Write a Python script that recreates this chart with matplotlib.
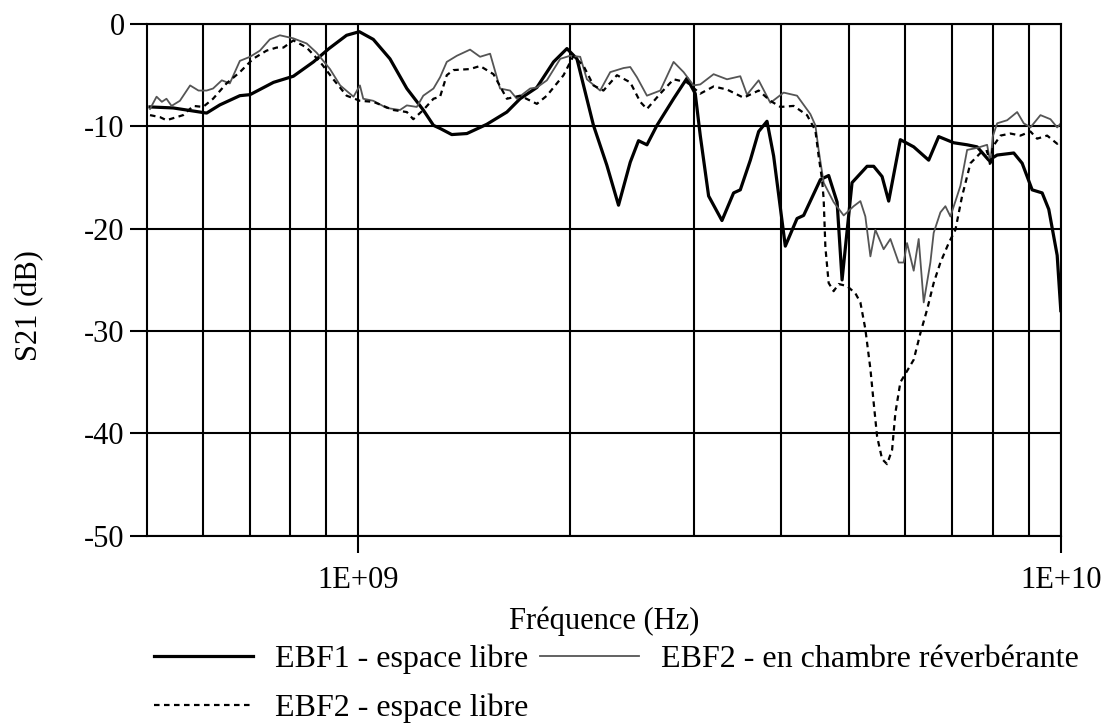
import numpy as np
import matplotlib
matplotlib.use("Agg")
import matplotlib.pyplot as plt
from matplotlib.ticker import FixedLocator, NullFormatter

plt.rcParams["font.family"] = ["Liberation Serif", "DejaVu Serif"]

# EBF1 - espace libre (fréquence en GHz, S21 en dB)
ebf1_f = [0.505, 0.545, 0.608, 0.635, 0.678, 0.701, 0.757, 0.808, 0.863, 0.908,
          0.962, 1.003, 1.050, 1.109, 1.172, 1.237, 1.279, 1.307, 1.358, 1.427,
          1.523, 1.627, 1.699, 1.795, 1.896, 1.981, 2.047, 2.161, 2.258, 2.346,
          2.438, 2.505, 2.575, 2.661, 2.810, 2.936, 3.017, 3.067, 3.152, 3.293,
          3.421, 3.497, 3.614, 3.714, 3.817, 3.901, 4.053, 4.212, 4.304, 4.547,
          4.672, 4.803, 4.882, 5.044, 5.299, 5.415, 5.566, 5.688, 5.910, 6.174,
          6.485, 6.701, 7.040, 7.356, 7.601, 7.896, 8.117, 8.571, 8.810, 9.104,
          9.407, 9.613, 9.882, 10.0]
ebf1_db = [-8.1, -8.2, -8.7, -7.9, -7.0, -6.9, -5.7, -5.1, -3.7, -2.4,
           -1.1, -0.75, -1.5, -3.4, -6.3, -8.4, -9.9, -10.2, -10.8, -10.7,
           -9.8, -8.6, -7.3, -6.2, -3.7, -2.4, -3.4, -9.9, -13.8, -17.7,
           -13.5, -11.4, -11.8, -9.9, -7.3, -5.3, -6.8, -10.9, -16.8, -19.2,
           -16.5, -16.2, -13.3, -10.5, -9.5, -12.9, -21.7, -19.0, -18.7, -15.2,
           -14.8, -17.4, -25.0, -15.5, -13.9, -13.9, -14.9, -17.3, -11.3, -12.0,
           -13.3, -11.0, -11.6, -11.8, -12.0, -13.3, -12.8, -12.6, -13.6, -16.2,
           -16.5, -18.1, -22.6, -28.0]

# EBF2 - en chambre réverbérante
ch_f = [0.505, 0.516, 0.525, 0.533, 0.542, 0.557, 0.576, 0.592, 0.608, 0.621,
        0.639, 0.656, 0.678, 0.701, 0.724, 0.748, 0.773, 0.808, 0.844, 0.872,
        0.911, 0.942, 0.984, 1.005, 1.016, 1.050, 1.097, 1.146, 1.172, 1.211,
        1.237, 1.279, 1.307, 1.336, 1.381, 1.442, 1.490, 1.540, 1.591, 1.644,
        1.681, 1.756, 1.795, 1.855, 1.938, 2.002, 2.069, 2.115, 2.209, 2.283,
        2.385, 2.438, 2.492, 2.575, 2.690, 2.810, 2.904, 3.000, 3.067, 3.204,
        3.348, 3.497, 3.575, 3.714, 3.859, 4.031, 4.212, 4.400, 4.473, 4.521,
        4.596, 4.749, 4.908, 4.962, 5.071, 5.184, 5.269, 5.357, 5.445, 5.595,
        5.720, 5.877, 5.974, 6.041, 6.174, 6.276, 6.380, 6.521, 6.592, 6.739,
        6.850, 6.964, 7.119, 7.196, 7.356, 7.601, 7.854, 7.940, 8.000, 8.117,
        8.387, 8.667, 8.856, 9.053, 9.355, 9.667, 9.882, 10.0]
ch_db = [-8.3, -7.1, -7.6, -7.3, -8.0, -7.5, -6.0, -6.5, -6.5, -6.3,
         -5.5, -5.8, -3.6, -3.2, -2.6, -1.5, -1.1, -1.4, -1.9, -2.8,
         -4.4, -6.0, -7.1, -6.0, -7.3, -7.5, -8.2, -8.4, -7.95, -8.1,
         -7.0, -6.3, -5.2, -3.7, -3.1, -2.5, -3.2, -2.9, -6.3, -6.5,
         -7.3, -6.3, -6.2, -5.5, -3.4, -3.1, -3.2, -5.4, -6.5, -4.7,
         -4.3, -4.2, -5.2, -7.0, -6.5, -3.7, -4.7, -6.0, -5.9, -4.9,
         -5.4, -5.1, -6.9, -5.5, -7.7, -6.7, -7.0, -8.8, -9.9, -12.3,
         -15.5, -17.4, -18.7, -18.4, -17.8, -17.3, -18.8, -22.7, -20.1, -22.0,
         -21.0, -23.3, -23.3, -21.4, -24.1, -21.0, -27.2, -23.3, -20.4, -18.4,
         -17.8, -18.8, -16.8, -15.8, -12.3, -12.1, -11.8, -13.6, -11.0, -9.7,
         -9.4, -8.6, -9.7, -10.1, -8.9, -9.3, -10.1, -9.7]

# EBF2 - espace libre
el_f = [0.505, 0.522, 0.533, 0.563, 0.582, 0.601, 0.621, 0.649, 0.678, 0.708,
        0.740, 0.765, 0.782, 0.808, 0.844, 0.882, 0.921, 0.962, 1.005, 1.050,
        1.121, 1.172, 1.197, 1.237, 1.279, 1.307, 1.336, 1.365, 1.442, 1.490,
        1.557, 1.627, 1.699, 1.795, 1.855, 1.959, 2.024, 2.092, 2.161, 2.233,
        2.334, 2.438, 2.519, 2.575, 2.690, 2.810, 2.936, 3.067, 3.204, 3.348,
        3.535, 3.714, 3.859, 3.988, 4.165, 4.352, 4.473, 4.521, 4.572, 4.596,
        4.622, 4.672, 4.749, 4.828, 4.962, 5.099, 5.184, 5.269, 5.357, 5.415,
        5.476, 5.566, 5.658, 5.752, 5.814, 5.910, 6.041, 6.174, 6.311, 6.451,
        6.592, 6.739, 6.925, 7.079, 7.236, 7.274, 7.436, 7.684, 7.854, 7.940,
        8.000, 8.205, 8.478, 8.761, 9.053, 9.254, 9.563, 9.882, 10.0]
el_db = [-8.9, -9.1, -9.4, -8.9, -8.0, -8.1, -7.3, -5.8, -4.7, -3.4,
         -2.6, -2.3, -2.3, -1.6, -2.3, -3.7, -5.4, -7.0, -7.5, -7.6,
         -8.4, -8.6, -9.3, -8.4, -7.3, -7.1, -5.0, -4.5, -4.4, -4.1,
         -4.9, -7.3, -7.0, -7.8, -7.0, -5.0, -3.1, -4.1, -6.0, -6.5,
         -5.0, -5.7, -7.6, -8.3, -6.8, -5.4, -5.7, -6.8, -6.1, -6.4,
         -7.2, -6.5, -7.5, -8.1, -8.0, -8.9, -10.4, -12.9, -15.2, -17.1,
         -21.8, -25.3, -26.1, -25.4, -25.6, -26.3, -27.2, -29.8, -33.7, -37.0,
         -40.3, -42.5, -43.0, -41.6, -38.0, -35.0, -33.9, -32.8, -30.2, -27.9,
         -25.3, -23.3, -21.4, -20.1, -16.8, -16.2, -13.6, -12.6, -12.4, -13.9,
         -12.0, -10.9, -10.7, -10.9, -10.5, -11.2, -10.9, -11.7, -11.3]

x_labels = ["1E+09", "1E+10"]
y_ticks = [0, -10, -20, -30, -40, -50]

fig = plt.figure(figsize=(11.05, 7.28), dpi=100)
ax = fig.add_axes([0.133, 0.264, 0.827, 0.703])

GHz = 1e9
l1, = ax.plot(np.array(ebf1_f) * GHz, ebf1_db, color="black", lw=2.3)
l3, = ax.plot(np.array(ch_f) * GHz, ch_db, color="#555555", lw=1.3)
l2, = ax.plot(np.array(el_f) * GHz, el_db, color="black", lw=1.6,
              dashes=(2.5, 2.0))

ax.set_xscale("log")
ax.set_xlim(5e8, 1e10)
ax.set_ylim(-50, 0)

# graduations : une ligne verticale tous les 100 MHz / 1 GHz
minors = [k * 1e8 for k in range(6, 10)] + [k * 1e9 for k in range(2, 10)]
ax.xaxis.set_major_locator(FixedLocator([1e9, 1e10]))
ax.set_xticklabels(x_labels)
ax.xaxis.set_minor_locator(FixedLocator(minors))
ax.xaxis.set_minor_formatter(NullFormatter())
ax.set_yticks(y_ticks)
ax.set_yticklabels([str(v) for v in y_ticks])

ax.grid(True, which="both", axis="x", color="black", lw=1.5)
ax.grid(True, which="major", axis="y", color="black", lw=1.5)
ax.tick_params(which="minor", length=0)
ax.tick_params(axis="x", which="major", direction="out", length=12, width=1.5,
               labelsize=22, pad=10)
ax.tick_params(axis="y", which="major", direction="out", length=12, width=1.5,
               labelsize=22, pad=4)
for s in ax.spines.values():
    s.set_linewidth(1.5)

ax.set_xlabel("Fréquence (Hz)", fontsize=22, labelpad=8)
ax.set_ylabel("S21 (dB)", fontsize=22)
ax.yaxis.set_label_coords(-0.112, 0.45)

fig.legend([l1, l2, l3],
           ["EBF1 - espace libre", "EBF2 - espace libre",
            "EBF2 - en chambre réverbérante"],
           ncol=2, loc="upper left", bbox_to_anchor=(0.125, 0.136),
           frameon=False, fontsize=23, borderpad=0, handlelength=3.1,
           handletextpad=0.7, columnspacing=0.35, labelspacing=0.6)

fig.savefig("out.png", dpi=100)
